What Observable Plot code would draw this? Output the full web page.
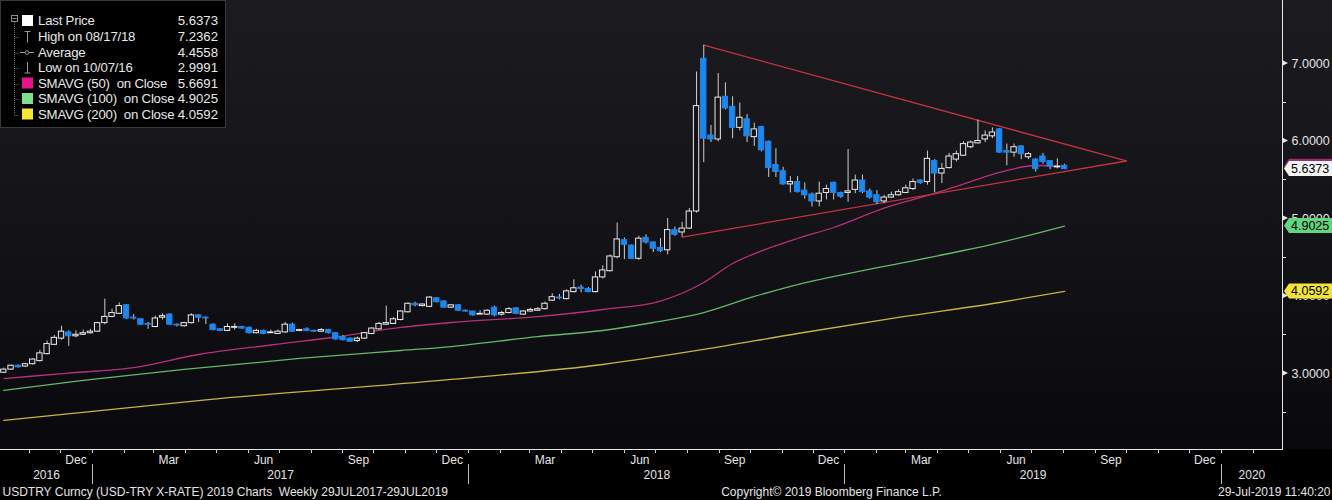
<!DOCTYPE html>
<html>
<head>
<meta charset="utf-8">
<script src="https://cdn.jsdelivr.net/npm/d3@7"></script>
<script src="https://cdn.jsdelivr.net/npm/@observablehq/plot@0.6"></script>
<style>
  html,body{margin:0;padding:0;background:#000;}
  #wrap{position:relative;width:1332px;height:500px;overflow:hidden;background:#000;}
  #bg{position:absolute;left:0;top:0;width:1332px;height:449px;background:linear-gradient(180deg,#1b1b20 0%,#121217 55%,#09090d 100%);}
  #chart{position:absolute;left:0;top:0;}
  #legend{position:absolute;left:0;top:0;width:224px;height:126px;background:#000;border:1px solid #3a3a3a;font-family:"Liberation Sans",Arial,sans-serif;font-size:13.2px;letter-spacing:-0.2px;color:#e8e8e8;}
  #legend .row{position:absolute;left:0;width:224px;height:16px;line-height:16px;}
  #legend .lab{position:absolute;left:37px;white-space:pre;}
  #legend .val{position:absolute;right:7px;letter-spacing:0;}
  #legend svg{position:absolute;left:0;top:0;}
</style>
</head>
<body>
<div id="wrap"><div id="bg"></div><div id="chart"></div><div id="legend"></div></div>
<script>
// ---------- data ----------
const firstBar = "2016-10-07", afterLastBar = "2019-08-03"; // weekly bars, Friday-dated
const open = [3.01,3.05,3.10,3.09,3.12,3.16,3.25,3.37,3.45,3.53,
3.48,3.50,3.52,3.54,3.65,3.73,3.77,3.88,3.72,3.70,
3.64,3.60,3.72,3.76,3.63,3.61,3.65,3.75,3.72,3.63,
3.57,3.55,3.59,3.60,3.59,3.52,3.55,3.52,3.51,3.53,
3.63,3.55,3.57,3.55,3.54,3.56,3.52,3.47,3.45,3.42,
3.45,3.51,3.57,3.63,3.64,3.69,3.79,3.90,3.87,3.86,
3.97,3.93,3.85,3.88,3.81,3.80,3.76,3.76,3.85,3.76,
3.78,3.84,3.76,3.80,3.81,3.83,3.94,3.98,3.96,4.05,
4.11,4.09,4.05,4.24,4.32,4.50,4.72,4.65,4.48,4.75,
4.69,4.62,4.59,4.85,4.82,4.87,5.09,7.06,6.07,6.02,
6.57,6.44,6.17,6.28,6.05,6.18,5.99,5.69,5.61,5.44,
5.47,5.36,5.31,5.22,5.33,5.46,5.33,5.33,5.37,5.49,
5.35,5.30,5.22,5.27,5.30,5.33,5.38,5.49,5.47,5.74,
5.58,5.65,5.76,5.81,5.92,5.97,6.02,6.06,6.15,5.87,
5.85,5.93,5.79,5.76,5.80,5.74,5.66,5.68];
const high = [3.07,3.11,3.11,3.13,3.19,3.30,3.42,3.49,3.61,3.55,
3.55,3.56,3.57,3.66,3.96,3.83,3.91,3.89,3.76,3.70,
3.66,3.74,3.77,3.77,3.64,3.66,3.77,3.76,3.73,3.64,
3.58,3.64,3.64,3.61,3.60,3.57,3.56,3.56,3.56,3.66,
3.65,3.57,3.59,3.56,3.58,3.57,3.53,3.49,3.46,3.47,
3.53,3.59,3.66,3.87,3.72,3.81,3.91,3.92,3.90,3.99,
3.98,3.94,3.89,3.89,3.82,3.80,3.81,3.82,3.87,3.80,
3.85,3.85,3.81,3.84,3.85,3.92,4.03,4.02,4.08,4.21,
4.14,4.11,4.31,4.39,4.53,4.94,4.75,4.66,4.77,4.79,
4.70,4.74,5.00,4.89,4.95,5.13,6.89,7.2362,6.20,6.87,
6.75,6.57,6.49,6.34,6.23,6.19,6.00,5.90,5.66,5.54,
5.54,5.46,5.33,5.47,5.43,5.47,5.34,5.89,5.56,5.56,
5.38,5.36,5.30,5.34,5.37,5.43,5.51,5.50,5.87,5.76,
5.71,5.84,5.87,5.99,6.00,6.27,6.13,6.17,6.16,5.96,
5.96,5.94,5.85,5.77,5.84,5.75,5.77,5.70];
const low = [2.9991,3.04,3.07,3.08,3.11,3.15,3.24,3.36,3.43,3.35,
3.46,3.49,3.51,3.53,3.63,3.72,3.76,3.70,3.69,3.62,
3.57,3.59,3.69,3.62,3.60,3.60,3.64,3.66,3.63,3.55,
3.54,3.54,3.56,3.57,3.51,3.51,3.50,3.52,3.51,3.52,
3.53,3.54,3.54,3.53,3.53,3.51,3.43,3.42,3.40,3.40,
3.44,3.50,3.56,3.62,3.63,3.68,3.78,3.86,3.86,3.85,
3.91,3.84,3.84,3.80,3.79,3.74,3.76,3.75,3.73,3.74,
3.77,3.76,3.75,3.79,3.80,3.82,3.93,3.95,3.95,4.04,
4.04,4.04,4.04,4.22,4.31,4.48,4.47,4.47,4.46,4.67,
4.56,4.56,4.53,4.77,4.76,4.86,5.07,5.72,5.98,5.99,
6.40,6.03,6.13,5.98,5.93,5.86,5.53,5.53,5.43,5.33,
5.33,5.25,5.15,5.15,5.24,5.24,5.26,5.21,5.32,5.32,
5.25,5.18,5.19,5.26,5.29,5.32,5.36,5.44,5.43,5.33,
5.45,5.64,5.73,5.80,5.90,5.96,5.98,6.03,5.84,5.68,
5.79,5.76,5.76,5.60,5.70,5.63,5.64,5.63];
const close = [3.05,3.10,3.08,3.12,3.18,3.26,3.38,3.46,3.54,3.48,
3.50,3.52,3.54,3.65,3.73,3.78,3.87,3.71,3.71,3.63,
3.63,3.71,3.74,3.63,3.62,3.65,3.75,3.72,3.71,3.56,
3.55,3.60,3.60,3.58,3.52,3.55,3.51,3.53,3.54,3.63,
3.54,3.56,3.55,3.54,3.56,3.52,3.44,3.43,3.41,3.45,
3.52,3.58,3.64,3.65,3.70,3.80,3.90,3.88,3.89,3.98,
3.92,3.85,3.88,3.81,3.80,3.75,3.77,3.81,3.75,3.78,
3.83,3.77,3.80,3.82,3.83,3.90,3.985,3.97,4.06,4.10,
4.09,4.05,4.24,4.33,4.51,4.73,4.66,4.48,4.74,4.69,
4.61,4.58,4.85,4.79,4.87,5.09,6.45,6.03,6.02,6.56,
6.42,6.17,6.30,6.06,6.15,5.88,5.65,5.60,5.44,5.47,
5.34,5.30,5.22,5.32,5.38,5.33,5.28,5.35,5.49,5.34,
5.27,5.21,5.27,5.30,5.34,5.39,5.47,5.46,5.77,5.58,
5.64,5.80,5.83,5.96,5.98,6.00,6.07,6.11,5.85,5.85,
5.92,5.83,5.83,5.64,5.73,5.67,5.67,5.6373];

const sma50Idx = [0,9,18,27,37,46,55,62,74,83,91,97,101,105,110,115,122,129,134,138,143,147];
const sma50Val = [2.935,3.006,3.077,3.245,3.368,3.471,3.594,3.658,3.735,3.826,3.935,4.174,4.419,4.581,4.742,4.884,5.135,5.323,5.477,5.594,5.684,5.6691];
const sma100Idx = [0,11,25,41,55,62,74,83,90,97,104,110,117,124,133,138,147];
const sma100Val = [2.781,2.910,3.052,3.194,3.297,3.348,3.477,3.555,3.658,3.787,3.994,4.148,4.290,4.419,4.587,4.690,4.9025];
const sma200Idx = [0,28,62,83,97,110,124,138,147];
const sma200Val = [2.394,2.661,2.923,3.116,3.310,3.516,3.723,3.916,4.0592];

// triangle trend lines
const upperLine = [["2018-08-17",7.2362],["2019-10-01",5.742]];
const lowerLine = [["2018-07-27",4.76],["2019-10-01",5.742]];

// legend
const legendLabels = ["Last Price","High on 08/17/18","Average","Low on 10/07/16","SMAVG (50)  on Close","SMAVG (100)  on Close","SMAVG (200)  on Close"];
const legendValues = ["5.6373","7.2362","4.4558","2.9991","5.6691","4.9025","4.0592"];

// axis
const yMajor = [3,4,5,6,7];
const yMinor = [2.5,3.5,4.5,5.5,6.5];
const monthNames = ["Jan","Feb","Mar","Apr","May","Jun","Jul","Aug","Sep","Oct","Nov","Dec"];
const labelledMonths = [2,5,8,11];
const footerLeft = "USDTRY Curncy (USD-TRY X-RATE) 2019 Charts  Weekly 29JUL2017-29JUL2019";
const footerMid = "Copyright\u00A9 2019 Bloomberg Finance L.P.";
const footerRight = "29-Jul-2019 11:40:20";

// ---------- build ----------
const dates = d3.utcFriday.range(new Date(firstBar), new Date(afterLastBar));
const bars = dates.map((date, i) => ({date, open: open[i], high: high[i], low: low[i], close: close[i]}));
const maRows = (idx, val, name) => idx.map((i, k) => ({date: dates[i], value: val[k], name}));
const maData = [...maRows(sma200Idx, sma200Val, "200"), ...maRows(sma100Idx, sma100Val, "100"), ...maRows(sma50Idx, sma50Val, "50")];
const trend = [...upperLine.map(([d, v]) => ({date: new Date(d), value: v, name: "up"})),
               ...lowerLine.map(([d, v]) => ({date: new Date(d), value: v, name: "lo"}))];

const xDomain = [new Date("2016-10-03T19:00Z"), new Date("2020-02-29T10:00Z")];
const monthStarts = d3.utcMonth.range(d3.utcMonth.ceil(xDomain[0]), xDomain[1]);
const monthLabels = monthStarts.filter(d => labelledMonths.includes(d.getUTCMonth()))
  .map(d => ({date: new Date(Date.UTC(d.getUTCFullYear(), d.getUTCMonth(), 16)), label: monthNames[d.getUTCMonth()]}));
const yearStarts = d3.utcYear.range(d3.utcYear.ceil(xDomain[0]), xDomain[1]);
const yearLabels = d3.range(xDomain[0].getUTCFullYear(), xDomain[1].getUTCFullYear() + 1).map(y => {
  const a = Math.max(Date.UTC(y, 0, 1), +xDomain[0]), b = Math.min(Date.UTC(y + 1, 0, 1), +xDomain[1]);
  return {date: new Date((a + b) / 2), label: String(y)};
});

const UP = "#131318", BLUE = "#1b87ef";
const tags = [
  {value: +legendValues[4], text: legendValues[4], fill: "#a32c6c", color: "#000"},
  {value: +legendValues[5], text: legendValues[5], fill: "#62d67e", color: "#000"},
  {value: +legendValues[6], text: legendValues[6], fill: "#f2e23a", color: "#000"},
  {value: +legendValues[0], text: legendValues[0], fill: "#f4f4f4", color: "#000"}
];

const NS = "http://www.w3.org/2000/svg";
function el(tag, attrs, parent) {
  const e = document.createElementNS(NS, tag);
  for (const k in attrs) e.setAttribute(k, attrs[k]);
  if (parent) parent.appendChild(e);
  return e;
}

function axisDecor(index, scales, values, dims) {
  const {x, y} = scales;
  const g = el("g", {});
  const right = dims.width - dims.marginRight, bottom = dims.height - dims.marginBottom;
  el("line", {x1: right + 0.5, x2: right + 0.5, y1: 0, y2: bottom + 1, stroke: "#e6e6e6", "stroke-width": 1}, g);
  el("line", {x1: 0, x2: right + 1, y1: bottom + 0.5, y2: bottom + 0.5, stroke: "#e6e6e6", "stroke-width": 1}, g);
  for (const v of yMinor) {
    const yy = Math.round(y(v)) + 0.5;
    el("line", {x1: right, x2: right + 4, y1: yy, y2: yy, stroke: "#e6e6e6"}, g);
  }
  for (const v of yMajor) {
    const yy = y(v);
    el("path", {d: `M${right},${yy - 3}L${right + 6},${yy}L${right},${yy + 3}Z`, fill: "#e6e6e6"}, g);
  }
  for (const d of monthStarts) {
    const xx = Math.round(x(d)) + 0.5;
    el("line", {x1: xx, x2: xx, y1: bottom, y2: bottom + 4, stroke: "#d0d0d0"}, g);
  }
  for (const d of yearStarts) {
    const xx = Math.round(x(d)) + 0.5;
    el("line", {x1: xx, x2: xx, y1: bottom + 15, y2: bottom + 35, stroke: "#bdbdbd"}, g);
  }
  return g;
}

function valueTags(index, scales, values, dims) {
  const {y} = scales;
  const g = el("g", {});
  const right = dims.width - dims.marginRight, W = dims.width;
  for (const t of tags) {
    const yy = y(t.value);
    el("path", {d: `M${right + 2},${yy}L${right + 7},${yy - 7.5}L${W},${yy - 7.5}L${W},${yy + 7.5}L${right + 7},${yy + 7.5}Z`, fill: t.fill}, g);
    const tx = el("text", {x: right + 9, y: yy, dy: "0.36em", fill: t.color, "font-size": 12.5, "text-anchor": "start"}, g);
    tx.textContent = t.text;
  }
  return g;
}

const chart = Plot.plot({
  width: 1332,
  height: 500,
  marginLeft: 0, marginRight: 50, marginTop: 0, marginBottom: 51,
  style: {background: "transparent", color: "#e0e0e0", fontFamily: "'Liberation Sans', Arial, sans-serif", fontSize: "12px", overflow: "visible"},
  x: {type: "utc", domain: xDomain, axis: null},
  y: {domain: [2.0194, 7.8129], axis: null},
  marks: [
    Plot.line(maData, {x: "date", y: "value", z: "name", curve: "monotone-x", strokeWidth: 1.3,
      stroke: d => d.name === "50" ? "#b8307c" : d.name === "100" ? "#63b86a" : "#c9b53c"}),
    Plot.line(trend, {x: "date", y: "value", z: "name", stroke: "#c5333f", strokeWidth: 1.3}),
    Plot.ruleX(bars, {x: "date", y1: "low", y2: "high", stroke: "#cfcfcf", strokeWidth: 1}),
    Plot.rect(bars, {
      x1: d => d3.utcHour.offset(d.date, -62), x2: d => d3.utcHour.offset(d.date, 62),
      y1: "open", y2: "close",
      fill: d => d.close >= d.open ? UP : BLUE,
      stroke: d => d.close >= d.open ? "#ececec" : BLUE, strokeWidth: 1
    }),
    axisDecor,
    Plot.text(yMajor, {y: d => d, text: d => d.toFixed(4), frameAnchor: "right", textAnchor: "start", dx: 9, fill: "#e4e4e4", fontSize: 12.5}),
    valueTags,
    Plot.text(monthLabels, {x: "date", text: "label", frameAnchor: "bottom", dy: 14, fill: "#e4e4e4", fontSize: 12}),
    Plot.text(yearLabels, {x: "date", text: "label", frameAnchor: "bottom", dy: 29, fill: "#e4e4e4", fontSize: 12}),
    Plot.text([footerLeft], {text: d => d, frameAnchor: "bottom-left", textAnchor: "start", dx: 2, dy: 46, fill: "#e4e4e4", fontSize: 12}),
    Plot.text([footerMid], {text: d => d, frameAnchor: "bottom", textAnchor: "middle", dx: 190, dy: 46, fill: "#e4e4e4", fontSize: 12}),
    Plot.text([footerRight], {text: d => d, frameAnchor: "bottom-right", textAnchor: "end", dx: 48, dy: 46, fill: "#e4e4e4", fontSize: 12})
  ]
});
document.getElementById("chart").appendChild(chart);

// ---------- legend ----------
const legend = document.getElementById("legend");
const rowY = [20, 35.5, 51.5, 67, 82.5, 98, 113.5];
const swatch = ["#ffffff", null, null, null, "#e5168b", "#7fe08d", "#f3e634"];
const ls = el("svg", {width: 224, height: 126});
legend.appendChild(ls);
el("rect", {x: 10.5, y: 14.5, width: 6, height: 6, fill: "none", stroke: "#8a8a8a"}, ls);
el("line", {x1: 11.5, x2: 15.5, y1: 17.5, y2: 17.5, stroke: "#8a8a8a"}, ls);
el("line", {x1: 13.5, x2: 13.5, y1: 21, y2: rowY[6], stroke: "#6a6a6a", "stroke-dasharray": "1,1"}, ls);
rowY.slice(1).forEach(yy => el("line", {x1: 13.5, x2: 18, y1: Math.round(yy) + 0.5, y2: Math.round(yy) + 0.5, stroke: "#6a6a6a", "stroke-dasharray": "1,1"}, ls));
rowY.forEach((yy, i) => {
  if (swatch[i]) el("rect", {x: 21, y: yy - 6, width: 11, height: 11, fill: swatch[i]}, ls);
});
el("line", {x1: 26.5, x2: 26.5, y1: rowY[1] - 5, y2: rowY[1] + 6, stroke: "#9a9a9a"}, ls);
el("line", {x1: 23.5, x2: 29.5, y1: rowY[1] - 5, y2: rowY[1] - 5, stroke: "#9a9a9a"}, ls);
el("line", {x1: 19, x2: 33, y1: rowY[2], y2: rowY[2], stroke: "#9a9a9a"}, ls);
el("circle", {cx: 26, cy: rowY[2], r: 1.8, fill: "#000", stroke: "#9a9a9a"}, ls);
el("line", {x1: 26.5, x2: 26.5, y1: rowY[3] - 6, y2: rowY[3] + 5, stroke: "#9a9a9a"}, ls);
el("line", {x1: 23.5, x2: 29.5, y1: rowY[3] + 5, y2: rowY[3] + 5, stroke: "#9a9a9a"}, ls);
legendLabels.forEach((lab, i) => {
  const row = document.createElement("div");
  row.className = "row";
  row.style.top = (rowY[i] - 8) + "px";
  const a = document.createElement("span"); a.className = "lab"; a.textContent = lab;
  const b = document.createElement("span"); b.className = "val"; b.textContent = legendValues[i];
  row.appendChild(a); row.appendChild(b);
  legend.appendChild(row);
});
</script>
</body>
</html>
